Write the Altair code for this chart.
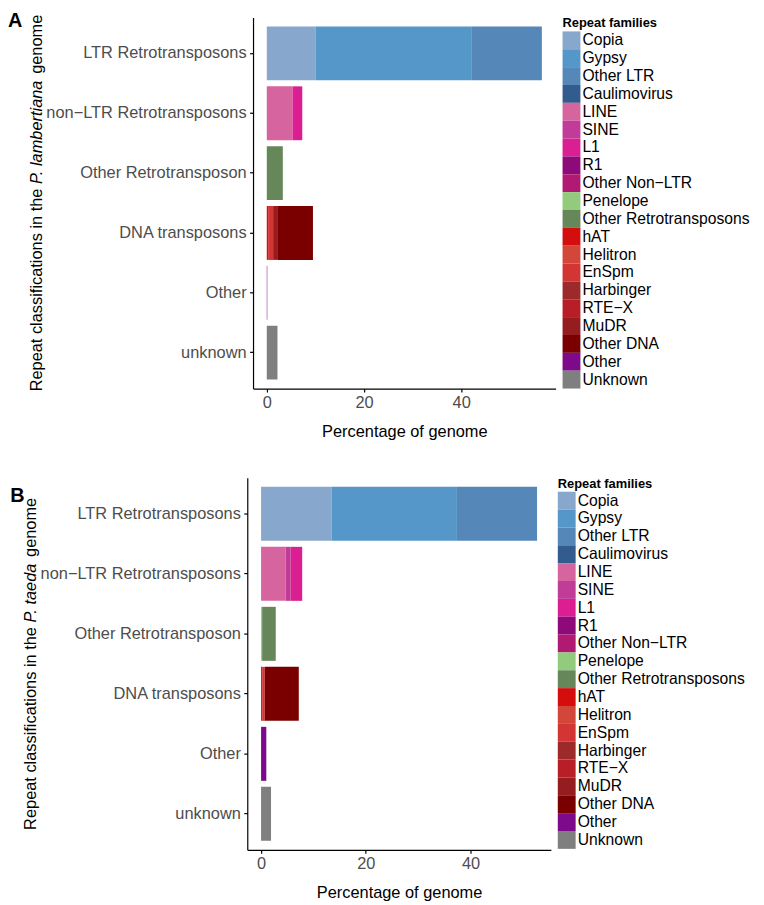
import altair as alt
import pandas as pd

# ---------------- data ----------------
families = ["Copia", "Gypsy", "Other LTR", "Caulimovirus", "LINE", "SINE", "L1", "R1",
            "Other Non−LTR", "Penelope", "Other Retrotransposons", "hAT", "Helitron",
            "EnSpm", "Harbinger", "RTE−X", "MuDR", "Other DNA", "Other", "Unknown"]
family_colors = ["#87A7CC", "#5597C8", "#5588B8", "#335C8E", "#D6659F", "#C03C98", "#DB1E91",
                 "#8E0A7A", "#B01A73", "#92CB7C", "#66875A", "#D30E0C", "#D2473A", "#D33434",
                 "#9C2A2A", "#B81E26", "#951D1F", "#7A0000", "#7D0A8A", "#7F7F7F"]
categories = ["LTR Retrotransposons", "non−LTR Retrotransposons", "Other Retrotransposon",
              "DNA transposons", "Other", "unknown"]

# Panel A: P. lambertiana
a_category = ["LTR Retrotransposons", "LTR Retrotransposons", "LTR Retrotransposons",
              "non−LTR Retrotransposons", "non−LTR Retrotransposons",
              "Other Retrotransposon",
              "DNA transposons", "DNA transposons", "DNA transposons", "DNA transposons",
              "Other", "unknown"]
a_family = ["Copia", "Gypsy", "Other LTR", "LINE", "L1", "Other Retrotransposons",
            "hAT", "EnSpm", "MuDR", "Other DNA", "Other", "Unknown"]
a_percent = [10.1, 32.1, 14.4, 5.3, 2.0, 3.3, 0.4, 0.9, 1.0, 7.2, 0.1, 2.2]

# Panel B: P. taeda
b_category = ["LTR Retrotransposons", "LTR Retrotransposons", "LTR Retrotransposons",
              "non−LTR Retrotransposons", "non−LTR Retrotransposons", "non−LTR Retrotransposons",
              "Other Retrotransposon", "Other Retrotransposon",
              "DNA transposons", "DNA transposons", "DNA transposons",
              "Other", "unknown"]
b_family = ["Copia", "Gypsy", "Other LTR", "LINE", "SINE", "L1", "Penelope",
            "Other Retrotransposons", "hAT", "EnSpm", "Other DNA", "Other", "Unknown"]
b_percent = [13.5, 23.9, 15.3, 4.7, 0.95, 2.2, 0.2, 2.6, 0.3, 0.4, 6.5, 1.0, 1.9]

x_ticks = [0, 20, 40]

FONT = "Liberation Sans"
TITLE_FS = 16.5
LABEL_FS = 16.5
LEGEND_FS = 15.8
# Arial/Liberation advance widths (em) of the y-title pieces
PREFIX_EM = 12.672      # "Repeat classifications in the "
SPACE_EM = 0.278
SUFFIX_EM = 3.891       # " genome"


def panel(letter, species, species_em, cats, fams, vals, w, h, letter_x, letter_y,
          right_edge=None):
    df = pd.DataFrame({"category": cats, "family": fams, "percent": vals})
    df["order"] = [families.index(f) for f in fams]
    total = df.groupby("category")["percent"].sum().max()
    pad = 0.05 * total

    bars = alt.Chart(df).mark_bar().encode(
        x=alt.X("percent:Q", stack="zero",
                scale=alt.Scale(domain=[-pad, total + pad], nice=False, zero=False),
                axis=alt.Axis(values=x_ticks, title="Percentage of genome",
                              titleFontSize=TITLE_FS, titleFontWeight="normal",
                              titleColor="black", titlePadding=13,
                              labelFontSize=LABEL_FS, labelColor="#4D4D4D", labelFlush=False,
                              tickSize=3.5, labelPadding=2.5, grid=False,
                              domainColor="black", tickColor="black",
                              domainWidth=1.2, tickWidth=1.2)),
        y=alt.Y("category:N", sort=categories,
                scale=alt.Scale(domain=categories, paddingInner=0.1, paddingOuter=0.15),
                axis=alt.Axis(title=None, labelFontSize=LABEL_FS, labelColor="#4D4D4D",
                              tickSize=3.5, labelPadding=3.5, labelLimit=400,
                              domainColor="black", tickColor="black",
                              domainWidth=1.2, tickWidth=1.2)),
        color=alt.Color("family:N",
                        scale=alt.Scale(domain=families, range=family_colors),
                        legend=alt.Legend(title="Repeat families", orient="right",
                                          offset=7, padding=0,
                                          titleFontSize=13, titleFontWeight="bold",
                                          titleColor="black", titlePadding=1,
                                          labelFontSize=LEGEND_FS, labelColor="black",
                                          labelLimit=300, labelOffset=2,
                                          symbolType="square", symbolSize=324,
                                          symbolStrokeWidth=0, rowPadding=-1)),
        order=alt.Order("order:Q", sort="ascending"),
    )

    one = pd.DataFrame({"k": [0]})
    w1 = PREFIX_EM * TITLE_FS
    w2 = species_em * TITLE_FS
    w3 = SUFFIX_EM * TITLE_FS
    y0 = h / 2 + (w1 + w2 + w3) / 2
    title_x = -218

    def piece(text, style, ypos):
        return alt.Chart(one).mark_text(
            angle=270, align="left", baseline="middle", fontSize=TITLE_FS,
            fontStyle=style, color="black", font=FONT
        ).encode(x=alt.value(title_x), y=alt.value(ypos), text=alt.value(text))

    t1 = piece("Repeat classifications in the", "normal", y0)
    t2 = piece(species, "italic", y0 - w1)
    t3 = piece("genome", "normal", y0 - w1 - w2 - SPACE_EM * TITLE_FS)

    lab = alt.Chart(one).mark_text(
        align="left", baseline="top", fontSize=20, fontWeight="bold", color="black", font=FONT
    ).encode(x=alt.value(letter_x), y=alt.value(letter_y), text=alt.value(letter))

    layers = [bars, t1, t2, t3, lab]
    if right_edge is not None:
        # invisible spacer so the panel's bounding box matches panel A's width
        spacer = alt.Chart(one).mark_rule(strokeOpacity=0, strokeWidth=1).encode(
            x=alt.value(right_edge), y=alt.value(0), y2=alt.value(1))
        layers.append(spacer)
    return alt.layer(*layers).properties(width=w, height=h)


# right edge of panel A's legend (relative to its plot origin)
a_right = 305 + 7 + 18 + 2 + 10.671 * LEGEND_FS

pa = panel("A", "P. lambertiana", 6.447, a_category, a_family, a_percent,
           305, 374, -247, -6)
pb = panel("B", "P. taeda", 3.725, b_category, b_family, b_percent,
           306, 375, -239, 8.5, right_edge=a_right + 12)

chart = alt.concat(pa, pb, columns=1, spacing=38, center=True).resolve_scale(
    color="independent"
).properties(padding=0).configure(font=FONT).configure_view(stroke=None)

chart.save("out.html", embed_options={"renderer": "svg", "actions": False})
